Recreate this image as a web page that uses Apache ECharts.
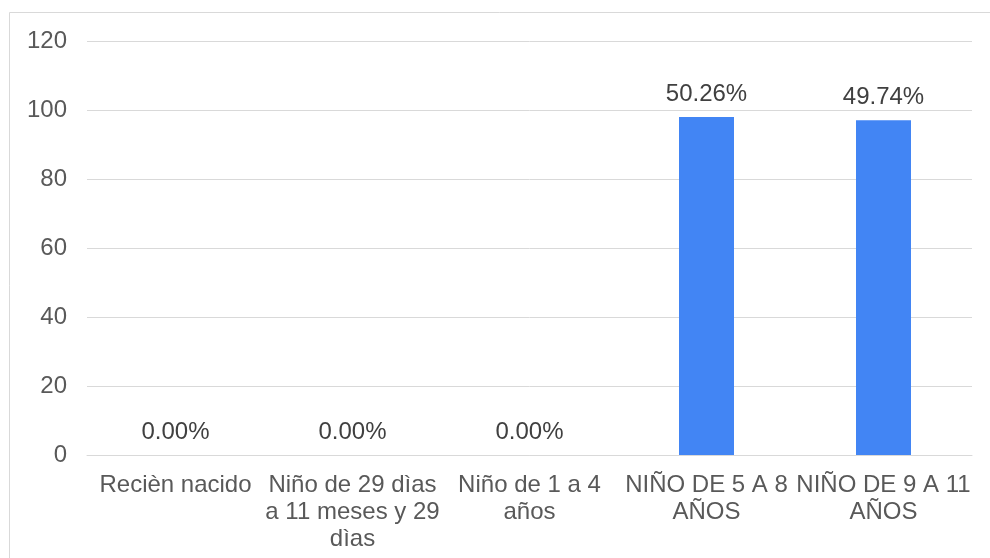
<!DOCTYPE html>
<html>
<head>
<meta charset="utf-8">
<style>
  html, body { margin: 0; padding: 0; background: #ffffff; }
  #chart { width: 990px; height: 558px; }
</style>
<script src="https://cdn.jsdelivr.net/npm/echarts@6/dist/echarts.min.js"></script>
</head>
<body>
<div id="chart"></div>
<script>
// Age groups and number of children in each
const categories = [
  'Recièn nacido',
  'Niño de 29 dìas\na 11 meses y 29\ndìas',
  'Niño de 1 a 4\naños',
  'NIÑO DE 5 A 8\nAÑOS',
  'NIÑO DE 9 A 11\nAÑOS'
];
const counts = [0, 0, 0, 98, 97];
const yTicks = { min: 0, max: 120, interval: 20 };

const total = counts.reduce((a, b) => a + b, 0);
const percentLabel = v => (total ? (v / total * 100) : 0).toFixed(2) + '%';

const chart = echarts.init(document.getElementById('chart'), null, { renderer: 'canvas' });
const font = 'Liberation Sans, Arial, sans-serif';

chart.setOption({
  animation: false,
  backgroundColor: '#ffffff',
  graphic: [
    { type: 'line', shape: { x1: 9.5, y1: 12.5, x2: 990, y2: 12.5 }, style: { stroke: '#d9d9d9', lineWidth: 1 } },
    { type: 'line', shape: { x1: 9.5, y1: 12.5, x2: 9.5, y2: 558 }, style: { stroke: '#d9d9d9', lineWidth: 1 } }
  ],
  grid: { left: 87, right: 18, top: 41, bottom: 103, containLabel: false },
  xAxis: {
    type: 'category',
    data: categories,
    axisLine: { show: true, lineStyle: { color: '#d9d9d9', width: 1 } },
    axisTick: { show: false },
    axisLabel: {
      interval: 0,
      color: '#595959',
      fontFamily: font,
      fontSize: 24,
      lineHeight: 27,
      margin: 17
    }
  },
  yAxis: {
    type: 'value',
    min: yTicks.min,
    max: yTicks.max,
    interval: yTicks.interval,
    axisLine: { show: false },
    axisTick: { show: false },
    splitLine: { lineStyle: { color: '#d9d9d9', width: 1 } },
    axisLabel: { color: '#595959', fontFamily: font, fontSize: 24, margin: 20 }
  },
  series: [{
    type: 'bar',
    data: counts,
    barWidth: 55,
    itemStyle: { color: '#4285f4' },
    label: {
      show: true,
      position: 'top',
      distance: 11,
      color: '#404040',
      fontFamily: font,
      fontSize: 24,
      formatter: p => percentLabel(p.value)
    }
  }]
});
</script>
</body>
</html>
